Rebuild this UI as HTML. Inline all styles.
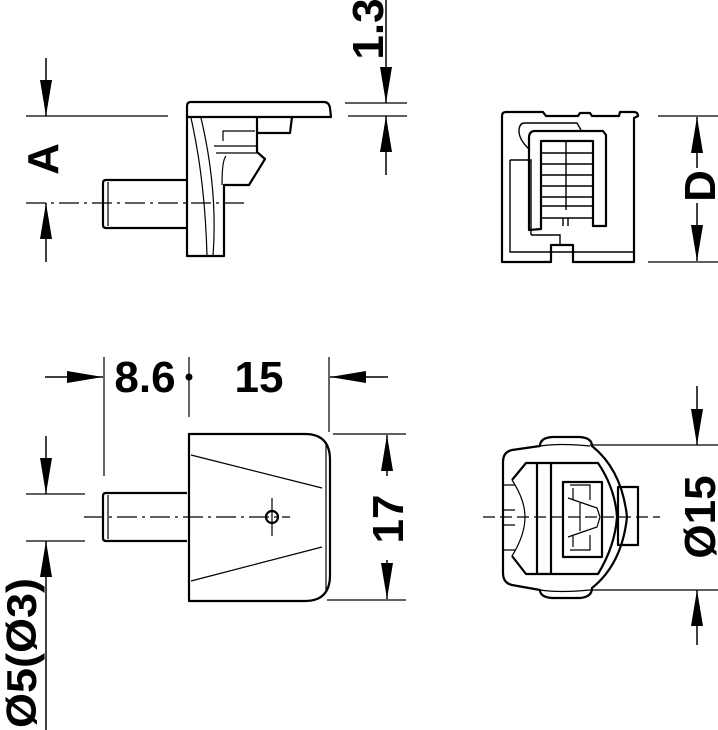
<!DOCTYPE html>
<html><head><meta charset="utf-8"><style>html,body{margin:0;padding:0;background:#fff}svg{display:block}text{font-family:"Liberation Sans",sans-serif;font-weight:bold;fill:#000}</style></head>
<body>
<svg width="718" height="730" viewBox="0 0 718 730" xmlns="http://www.w3.org/2000/svg">
<defs>
<marker id="ar" viewBox="0 0 10 10" refX="10" refY="5" markerWidth="36" markerHeight="12" markerUnits="userSpaceOnUse" orient="auto-start-reverse" preserveAspectRatio="none"><path d="M0,0 L10,5 L0,10 z" fill="#000"/></marker>
</defs>
<g fill="none" stroke="#000" stroke-width="1.2">
<!-- TOP LEFT -->
<line x1="26" y1="116" x2="168" y2="116"/>
<line x1="46" y1="58" x2="46" y2="116" marker-end="url(#ar)" stroke-width="1.5"/>
<line x1="46" y1="262" x2="46" y2="203" marker-end="url(#ar)" stroke-width="1.5"/>
<line x1="26" y1="203" x2="245" y2="203" stroke-dasharray="20,5,3,5"/>
<g stroke-width="2.2" stroke-linejoin="round">
<path d="M187,117 L187,106 Q187,102 191,102 L324,102 Q329,102 330,108 L331,117 L187,117"/>
<path d="M187,117 L187,256 L224,256 L224,185 L249,185 L265,159 L257,152 L257,133 L290,133 L292,117"/>
<path d="M103,183 Q103,180 106,180 L187,180 M103,183 L103,225 Q103,228 106,228 L187,228"/>
<line x1="257" y1="117" x2="257" y2="133"/>
</g>
<path d="M108,182 L108,226"/>
<path d="M191,118 Q205,180 207,256 M201,118 Q218,190 213,256 M223,141 L223,131 L255,131 M214,146 L257,146 M216,153 L257,153 M226,156 Q222,160 222,185"/>
<!-- 1.3 -->
<line x1="345" y1="103" x2="407" y2="103"/>
<line x1="348" y1="116" x2="407" y2="116"/>
<line x1="386" y1="0" x2="386" y2="103" marker-end="url(#ar)" stroke-width="1.5"/>
<line x1="386" y1="175" x2="386" y2="116" marker-end="url(#ar)" stroke-width="1.5"/>
<!-- TOP RIGHT -->
<g stroke-width="2.2" stroke-linejoin="round">
<path d="M502,116 Q502,112 506,112 L543,112 L546,116 L578,116 L580,113 L590,113 L592,116 L619,116 L620,112 L634,112 Q638,112 638,116 L634,118 L634,262 L573,262 L573,245 L551,245 L551,262 L502,262 Z"/>
<path d="M529,230 L529,138 Q529,131 535,131 L603,131 L606,135 L606,226 L593,226 L593,141 L541,141 L541,229 Z"/>
</g>
<path d="M519,131 Q519,123 525,123 L577,123 L581,130 M519,131 Q519,140 530,150 M510,160 L531,160 L531,235 M510,160 L510,252 L634,252 M531,235 L560,235 L560,245 M541,153 L592,153 M541,164 L592,164 M541,175 L592,175 M541,186 L592,186 M541,197 L592,197 M541,206 L592,206 M541,218 L592,218 M566,141 L566,210 M563,218 L563,226 M568,218 L568,226" stroke-width="1.4"/>
<line x1="658" y1="116" x2="718" y2="116"/>
<line x1="648" y1="262" x2="718" y2="262"/>
<line x1="697" y1="168" x2="697" y2="117" marker-end="url(#ar)" stroke-width="1.5"/>
<line x1="697" y1="203" x2="697" y2="261" marker-end="url(#ar)" stroke-width="1.5"/>
<!-- BOTTOM LEFT -->
<line x1="45" y1="377" x2="103" y2="377" marker-end="url(#ar)" stroke-width="1.5"/>
<line x1="104" y1="357" x2="104" y2="476"/>
<line x1="189" y1="357" x2="189" y2="417"/>
<line x1="329" y1="357" x2="329" y2="432"/>
<line x1="388" y1="377" x2="330" y2="377" marker-end="url(#ar)" stroke-width="1.5"/>
<g stroke-width="2.2" stroke-linejoin="round">
<path d="M189,434 L305,434 Q330,434 330,460 L330,575 Q330,601 305,601 L189,601 Z"/>
<path d="M103,496 Q103,493 106,493 L187,493 M103,496 L103,538 Q103,541 106,541 L187,541"/>
<circle cx="272" cy="517" r="6"/>
</g>
<path d="M108,495 L108,539 M191,455 L322,488 M191,581 L322,547 M326,444 L326,590"/>
<line x1="84" y1="517" x2="290" y2="517" stroke-dasharray="20,5,3,5"/>
<line x1="272" y1="498" x2="272" y2="536"/>
<line x1="26" y1="494" x2="85" y2="494"/>
<line x1="26" y1="541" x2="85" y2="541"/>
<line x1="46" y1="436" x2="46" y2="494" marker-end="url(#ar)" stroke-width="1.5"/>
<line x1="46" y1="730" x2="46" y2="541" marker-end="url(#ar)" stroke-width="1.5"/>
<line x1="333" y1="434" x2="406" y2="434"/>
<line x1="327" y1="600" x2="406" y2="600"/>
<line x1="387" y1="476" x2="387" y2="435" marker-end="url(#ar)" stroke-width="1.5"/>
<line x1="387" y1="560" x2="387" y2="599" marker-end="url(#ar)" stroke-width="1.5"/>
<!-- BOTTOM RIGHT -->
<g stroke-width="2.2" stroke-linejoin="round">
<path d="M503,462 Q503,452 512,450 L540,446 Q540,438 552,437 L580,437 Q592,438 592,446 Q622,470 627,517 Q622,564 592,588 Q592,597 580,598 L552,598 Q540,597 540,590 L512,585 Q503,583 503,573 Z"/>
<path d="M512,480 L526,463 L598,463 Q615,488 617,517 Q615,546 598,574 L526,574 L512,556"/>
<rect x="618" y="487" width="20" height="58"/>
<rect x="563" y="482" width="39" height="75"/>
<line x1="537" y1="464" x2="537" y2="573"/>
<line x1="551" y1="464" x2="551" y2="573"/>
</g>
<path d="M540,446 Q560,443 590,446 M540,590 Q560,593 590,590 M512,480 Q525,500 525,517 Q525,535 512,556 M503,485 L515,485 M503,550 L515,550 M503,510 L515,510 M503,525 L515,525 M570,485 L590,485 L590,500 M570,550 L590,550 L590,535 M568,498 L597,508 L600,517 L597,527 L568,537 M580,503 L580,531 M573,488 L573,500 M573,535 L573,547"/>
<line x1="483" y1="517" x2="660" y2="517" stroke-dasharray="12,5"/>
<line x1="590" y1="445" x2="718" y2="445"/>
<line x1="590" y1="590" x2="718" y2="590"/>
<line x1="697" y1="386" x2="697" y2="445" marker-end="url(#ar)" stroke-width="1.5"/>
<line x1="697" y1="645" x2="697" y2="590" marker-end="url(#ar)" stroke-width="1.5"/>
</g>
<!-- texts -->
<text x="0" y="0" font-size="44" text-anchor="middle" transform="translate(58,159) rotate(-90)">A</text>
<text x="0" y="0" font-size="44" text-anchor="middle" transform="translate(383,29) rotate(-90)">1.3</text>
<text x="0" y="0" font-size="44" text-anchor="middle" transform="translate(715,186) rotate(-90)">D</text>
<text x="145" y="392" font-size="44" text-anchor="middle">8.6</text>
<circle cx="189" cy="377" r="3.5" fill="#000"/>
<text x="259" y="392" font-size="44" text-anchor="middle">15</text>
<text x="0" y="0" font-size="44" text-anchor="middle" transform="translate(403,519) rotate(-90)">17</text>
<text x="0" y="0" font-size="44" text-anchor="middle" transform="translate(715,517) rotate(-90)">Ø15</text>
<text x="0" y="0" font-size="42" text-anchor="middle" textLength="150" lengthAdjust="spacingAndGlyphs" transform="translate(36,653) rotate(-90)">Ø5(Ø3)</text>
</svg>
</body></html>
